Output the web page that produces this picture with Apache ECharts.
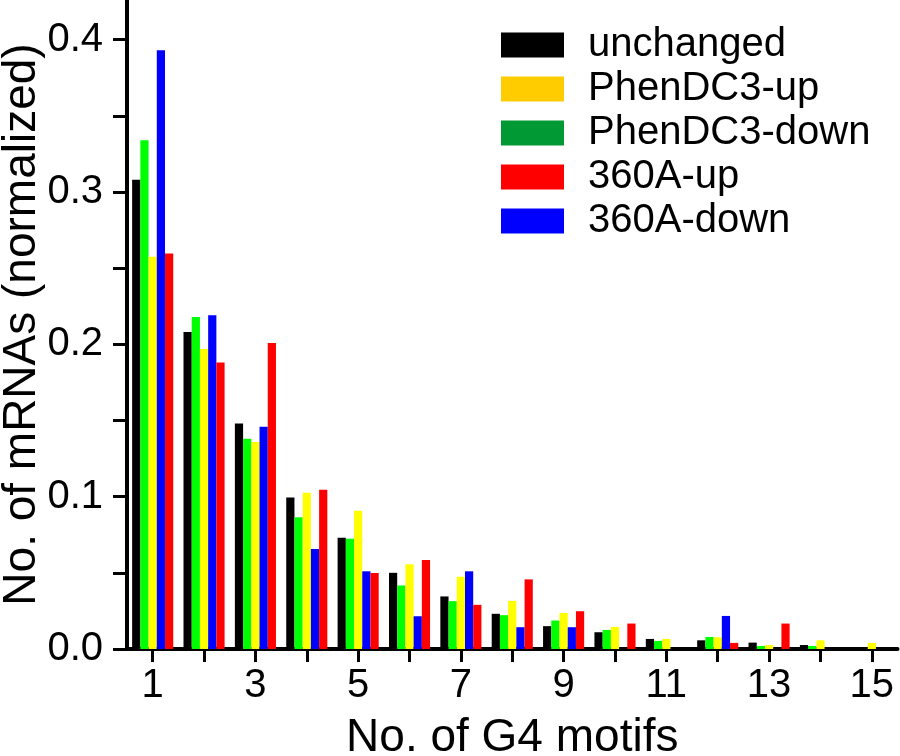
<!DOCTYPE html>
<html>
<head>
<meta charset="utf-8">
<script src="https://cdn.jsdelivr.net/npm/echarts@6/dist/echarts.min.js"></script>
<style>html,body{margin:0;padding:0;background:#fff}#c{width:900px;height:756px}</style>
</head>
<body>
<div id="c"></div>
<script>
var categories = ['1','2','3','4','5','6','7','8','9','10','11','12','13','14','15'];
var unchanged   = [0.308, 0.208, 0.148, 0.0995, 0.073, 0.050, 0.0345, 0.0231, 0.015, 0.011, 0.0066, 0.0057, 0.0042, 0.0026, 0.001];
var phenDown    = [0.334, 0.218, 0.138, 0.0865, 0.0723, 0.0417, 0.0314, 0.0222, 0.0187, 0.0125, 0.0053, 0.0079, 0.002, 0.002, 0];
var phenUp      = [0.2575, 0.197, 0.1358, 0.1026, 0.0907, 0.0556, 0.0474, 0.0316, 0.0237, 0.0145, 0.0066, 0.0077, 0.0026, 0.0057, 0.004];
var a360Down    = [0.393, 0.219, 0.1459, 0.0657, 0.051, 0.0215, 0.051, 0.0143, 0.0143, 0, 0, 0.0217, 0, 0, 0];
var a360Up      = [0.2596, 0.188, 0.2008, 0.1046, 0.0499, 0.0585, 0.029, 0.0457, 0.0248, 0.0167, 0, 0.004, 0.0167, 0, 0];
var yTicks  = [0, 0.05, 0.1, 0.15, 0.2, 0.25, 0.3, 0.35, 0.4];
var yLabels = [0, 0.1, 0.2, 0.3, 0.4];

var FONT = '"Liberation Sans", Arial, sans-serif';
var chart = echarts.init(document.getElementById('c'));
function bar(name, data, color) {
  return { name: name, type: 'bar', data: data, itemStyle: { color: color },
    barGap: '0%', barCategoryGap: '20%', animation: false };
}
chart.setOption({
  animation: false,
  backgroundColor: '#fff',
  grid: { left: 127, right: 2.5, top: 0, bottom: 107, containLabel: false, outerBoundsMode: 'none' },
  legend: {
    left: 501, top: 25, padding: 0, orient: 'vertical', itemWidth: 63, itemHeight: 25, itemGap: 4,
    icon: 'rect',
    textStyle: { fontFamily: FONT, fontSize: 40, color: '#000', lineHeight: 40, padding: [0, 0, 0, 19] },
    data: [
      { name: 'unchanged', itemStyle: { color: '#000000' } },
      { name: 'PhenDC3-up', itemStyle: { color: '#FFCC00' } },
      { name: 'PhenDC3-down', itemStyle: { color: '#009933' } },
      { name: '360A-up', itemStyle: { color: '#FF0000' } },
      { name: '360A-down', itemStyle: { color: '#0000FF' } }
    ]
  },
  xAxis: {
    type: 'category', data: categories,
    name: 'No. of G4 motifs', nameLocation: 'middle', nameGap: 66, nameMoveOverlap: false,
    nameTextStyle: { fontFamily: FONT, fontSize: 46, color: '#000' },
    axisLine: { lineStyle: { color: '#000', width: 4 } },
    axisTick: { show: true, interval: 0, alignWithLabel: true, length: 13, lineStyle: { color: '#000', width: 3 } },
    axisLabel: { interval: 1, fontFamily: FONT, fontSize: 40, color: '#000', margin: 17 },
    splitLine: { show: false }
  },
  yAxis: {
    type: 'value', min: 0, max: 0.426,
    name: 'No. of mRNAs (normalized)', nameLocation: 'middle', nameGap: 82, nameMoveOverlap: false,
    nameTextStyle: { fontFamily: FONT, fontSize: 46, color: '#000' },
    axisLine: { show: true, lineStyle: { color: '#000', width: 4 } },
    axisTick: { show: true, length: 14, customValues: yTicks, lineStyle: { color: '#000', width: 3 } },
    axisLabel: { customValues: yLabels, fontFamily: FONT, fontSize: 40, color: '#000', margin: 24,
      formatter: function (v) { return v.toFixed(1); } },
    splitLine: { show: false }
  },
  series: [
    bar('unchanged', unchanged, '#000000'),
    bar('PhenDC3-down', phenDown, '#00FF00'),
    bar('PhenDC3-up', phenUp, '#FFFF00'),
    bar('360A-down', a360Down, '#0000FF'),
    bar('360A-up', a360Up, '#FF0000')
  ]
});
</script>
</body>
</html>
